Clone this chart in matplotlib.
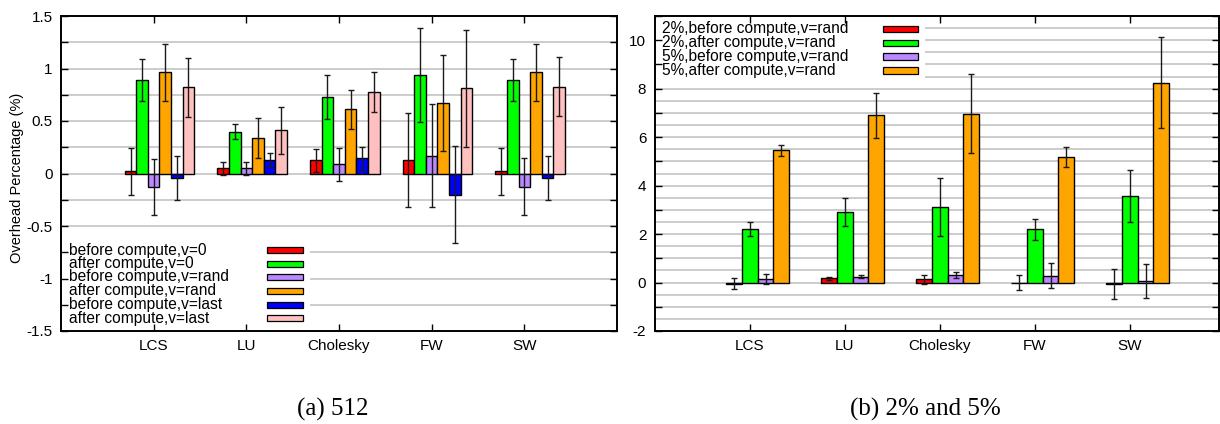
import matplotlib
matplotlib.use('Agg')
import matplotlib.pyplot as plt
import numpy as np
from matplotlib.patches import Rectangle
from matplotlib.ticker import MultipleLocator, FuncFormatter

plt.rcParams['font.family'] = ['Liberation Sans', 'DejaVu Sans']
plt.rcParams['axes.unicode_minus'] = False

categories = ['LCS', 'LU', 'Cholesky', 'FW', 'SW']

# ---- panel (a) 512 ----
a_labels = ['before compute,v=0', 'after compute,v=0', 'before compute,v=rand',
            'after compute,v=rand', 'before compute,v=last', 'after compute,v=last']
a_before_v0 = [0.02, 0.048, 0.128, 0.128, 0.02]
a_before_v0_err = [0.22, 0.06, 0.11, 0.45, 0.22]
a_after_v0 = [0.895, 0.40, 0.73, 0.94, 0.89]
a_after_v0_err = [0.20, 0.07, 0.21, 0.445, 0.20]
a_before_rand = [-0.128, 0.048, 0.086, 0.17, -0.125]
a_before_rand_err = [0.27, 0.06, 0.155, 0.49, 0.27]
a_after_rand = [0.965, 0.34, 0.61, 0.67, 0.965]
a_after_rand_err = [0.27, 0.19, 0.19, 0.46, 0.27]
a_before_last = [-0.04, 0.128, 0.147, -0.20, -0.04]
a_before_last_err = [0.21, 0.07, 0.11, 0.46, 0.21]
a_after_last = [0.82, 0.41, 0.78, 0.81, 0.825]
a_after_last_err = [0.28, 0.22, 0.19, 0.56, 0.28]

# ---- panel (b) 2% and 5% ----
b_labels = ['2%,before compute,v=rand', '2%,after compute,v=rand',
            '5%,before compute,v=rand', '5%,after compute,v=rand']
b_2_before = [-0.05, 0.17, 0.13, 0.0, -0.06]
b_2_before_err = [0.22, 0.06, 0.18, 0.30, 0.63]
b_2_after = [2.22, 2.91, 3.11, 2.19, 3.57]
b_2_after_err = [0.29, 0.56, 1.20, 0.45, 1.06]
b_5_before = [0.14, 0.24, 0.32, 0.28, 0.07]
b_5_before_err = [0.22, 0.06, 0.12, 0.52, 0.70]
b_5_after = [5.45, 6.91, 6.97, 5.18, 8.24]
b_5_after_err = [0.24, 0.93, 1.64, 0.43, 1.88]

colors6 = ['#ff0000', '#00ff00', '#bb88ff', '#ffa500', '#0000ff', '#ffc0c0']
colors4 = ['#ff0000', '#00ff00', '#bb88ff', '#ffa500']

W, H = 1220, 424
fig = plt.figure(figsize=(W / 100, H / 100), dpi=100)

# axes pixel boxes (left, top, right, bottom)
boxA = (61, 16, 617, 331)
boxB = (654.7, 16, 1219, 331)


def make_ax(box):
    l, t, r, b = box
    return fig.add_axes([l / W, 1 - b / H, (r - l) / W, (b - t) / H])


axA = make_ax(boxA)
axB = make_ax(boxB)

x = np.arange(1, len(categories) + 1)
fmt = FuncFormatter(lambda v, p: '%g' % v)


def style_axes(ax, ylim, major, minor, grid_step, xlim):
    ax.set_xlim(*xlim)
    ax.set_ylim(*ylim)
    ax.set_xticks(x)
    ax.set_xticklabels(categories, fontsize=11)
    ax.yaxis.set_major_locator(MultipleLocator(major))
    ax.yaxis.set_minor_locator(MultipleLocator(minor))
    ax.yaxis.set_major_formatter(fmt)
    ax.tick_params(axis='both', which='both', direction='in', top=True, right=True,
                   length=5, width=1.0, color='black')
    ax.tick_params(axis='y', which='major', labelsize=11, pad=6)
    ax.tick_params(axis='x', which='major', pad=6)
    ax.tick_params(axis='x', which='minor', length=0)
    for s in ax.spines.values():
        s.set_linewidth(1.4)
    for g in np.arange(ylim[0] + grid_step, ylim[1] - 1e-9, grid_step):
        ax.axhline(g, color='#c4c4c4', lw=1.2, zorder=0.5)


style_axes(axA, (-1.5, 1.5), 0.5, 0.25, 0.25, (0, 6))
style_axes(axB, (-2, 11), 2, 1, 0.5, (0, 5.94))


def draw_bars(ax, series, errs, colors, width, center_idx):
    for i, (vals, err, c) in enumerate(zip(series, errs, colors)):
        pos = x + (i - center_idx) * width
        ax.bar(pos, vals, width=width, color=c, edgecolor='black', linewidth=1.0,
               zorder=2)
        ax.errorbar(pos, vals, yerr=err, fmt='none', ecolor='#1a1a1a', elinewidth=1.0,
                    capsize=2.2, capthick=1.0, zorder=3)


draw_bars(axA,
          [a_before_v0, a_after_v0, a_before_rand, a_after_rand, a_before_last, a_after_last],
          [a_before_v0_err, a_after_v0_err, a_before_rand_err, a_after_rand_err,
           a_before_last_err, a_after_last_err],
          colors6, 0.125, 2)
draw_bars(axB,
          [b_2_before, b_2_after, b_5_before, b_5_after],
          [b_2_before_err, b_2_after_err, b_5_before_err, b_5_after_err],
          colors4, 1 / 6, 1)


def to_ax(box, px, py):
    l, t, r, b = box
    return (px - l) / (r - l), (b - py) / (b - t)


def gp_key(ax, box, labels, colors, bg, text_x, ys, sample_x0, sample_x1, sample_h):
    bx0, by0 = to_ax(box, bg[0], bg[3])
    bx1, by1 = to_ax(box, bg[2], bg[1])
    ax.add_patch(Rectangle((bx0, by0), bx1 - bx0, by1 - by0, transform=ax.transAxes,
                           facecolor='white', edgecolor='none', zorder=1.5))
    for lab, c, py in zip(labels, colors, ys):
        tx, ty = to_ax(box, text_x, py)
        ax.text(tx, ty, lab, transform=ax.transAxes, ha='left', va='center',
                fontsize=11.2, zorder=4)
        sx0, sy0 = to_ax(box, sample_x0, py + sample_h / 2)
        sx1, sy1 = to_ax(box, sample_x1, py - sample_h / 2)
        ax.add_patch(Rectangle((sx0, sy0), sx1 - sx0, sy1 - sy0, transform=ax.transAxes,
                               facecolor=c, edgecolor='black', linewidth=0.9, zorder=4))


gp_key(axA, boxA, a_labels, colors6, (62, 240, 310, 330),
       69, [250, 263.5, 277, 290.7, 304.5, 318], 267, 303, 6)
gp_key(axB, boxB, b_labels, colors4, (655.5, 17, 925, 80),
       662.5, [29, 42.8, 56.7, 70.7], 883, 918, 6.5)

fig.text(17 / W, 1 - 178 / H, 'Overhead Percentage (%)', rotation=90,
         ha='center', va='center', fontsize=10.5)

fig.text(333 / W, 1 - 416 / H, '(a) 512', ha='center', va='baseline',
         fontsize=18, family=['Liberation Serif', 'DejaVu Serif'])
fig.text(925 / W, 1 - 416 / H, '(b) 2% and 5%', ha='center', va='baseline',
         fontsize=18, family=['Liberation Serif', 'DejaVu Serif'])

fig.savefig('out.png', dpi=100)
